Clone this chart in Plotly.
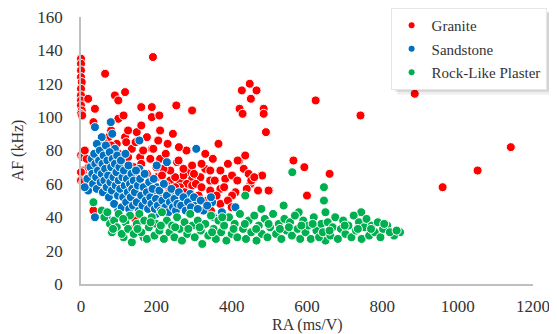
import plotly.graph_objects as go

# ---------------- data ----------------
granite_ra = [0, 0, 0, 0, 2, 0, 0, 0, 0, 2, 0, 3,
              0, 4, 6, 0, 0, 6, 33,
              19, 37, 33, 64, 90, 99, 117, 99, 113, 160, 188, 188, 208, 253, 295, 191,
              148, 244, 365, 421, 429, 427, 448, 451, 466, 485, 485, 491, 420, 436,
              564, 593, 660, 600, 500, 481, 623, 886, 742, 1141, 1053, 960,
              73, 117, 95, 135, 188, 157, 184, 210, 255, 286, 175, 201, 237, 263, 290,
              228, 184, 144, 144,
              192, 416, 259, 295, 330, 343, 370, 432, 445, 317, 343, 383, 401, 450, 452,
              498, 370, 410, 401, 295, 272, 250, 237, 219, 272, 281, 263, 312, 343, 370, 295,
              50, 65, 80, 100, 110, 125, 140, 150, 160, 130, 170, 120, 145, 165, 200,
              215, 225, 235, 250, 260, 275, 305, 320, 335, 355, 360, 380, 390, 300, 320,
              350, 280, 230, 205, 175, 125, 80, 55, 40, 20, 15, 35, 105, 90, 200, 170,
              345, 400, 440, 460, 415, 470, 300, 330, 260, 390, 210, 160, 60, 10]
granite_af = [135, 132, 128, 124, 121, 117, 113, 110, 107, 104, 102, 101,
              77, 76, 68, 67, 62, 61, 44,
              111, 105, 97, 126, 113, 110, 115, 99, 101, 106, 106, 100, 101, 107, 104, 136,
              91, 90, 84, 105, 102, 116, 120, 111, 116, 105, 102, 91, 74, 77,
              74, 70, 66, 53, 56, 65, 110, 114, 101, 82, 68, 58,
              88, 88, 84, 81, 81, 76, 75, 75, 73, 67, 66, 64, 62, 61, 59,
              59, 60, 39, 34,
              81, 74, 74, 71, 69, 68, 68, 69, 66, 64, 62, 63, 65, 60, 62,
              56, 57, 55, 53, 63, 65, 64, 68, 69, 69, 60, 58, 53, 56, 48, 59,
              80, 75, 83, 78, 72, 76, 70, 65, 72, 62, 58, 85, 85, 80, 70,
              65, 78, 55, 58, 52, 55, 60, 58, 50, 62, 53, 58, 50, 66, 72,
              75, 80, 84, 86, 88, 92, 92, 70, 72, 70, 75, 62, 68, 62, 55, 50,
              44, 46, 57, 64, 62, 56, 48, 78, 82, 72, 92, 95, 85, 80]

sandstone_ra = [79, 37, 55, 83, 42, 155, 306, 90, 201, 228, 155, 17, 19, 37, 68, 99,
                200, 299, 215, 201, 290, 348, 325, 374, 410, 352, 240, 10,
                25, 28, 30, 32, 35, 38, 40, 42, 45, 48, 50, 52, 55, 57, 58, 60,
                62, 64, 66, 68, 70, 72, 74, 76, 78, 80, 82, 84, 86, 88, 90, 92, 94, 96, 98, 100,
                102, 104, 106, 108, 110, 112, 114, 116, 118, 120, 122, 124, 126, 128, 130,
                132, 134, 136, 138, 140,
                143, 146, 148, 151, 154, 157, 160, 163, 166, 169, 172, 175, 178, 181, 184,
                187, 190, 193, 196, 199,
                204, 208, 212, 216, 220, 224, 228, 232, 236, 240, 244, 248, 252, 256, 260,
                266, 272, 278, 284, 292, 300, 310, 318, 335, 345]
sandstone_af = [97, 94, 88, 90, 84, 86, 81, 81, 71, 73, 69, 63, 56, 40, 40, 44,
                42, 48, 53, 58, 54, 49, 44, 43, 46, 40, 53, 58,
                70, 75, 66, 60, 78, 72, 64, 57, 68, 74, 80, 61, 66, 72, 55, 77,
                62, 69, 83, 58, 74, 65, 52, 79, 61, 70, 56, 75, 64, 48, 72, 59, 67, 77, 53, 62,
                70, 57, 74, 46, 64, 52, 68, 59, 78, 49, 63, 55, 71, 45, 60,
                52, 66, 57, 47, 62,
                55, 68, 49, 59, 44, 63, 53, 47, 58, 66, 50, 55, 45, 61, 52,
                48, 57, 63, 45, 51,
                47, 56, 44, 50, 60, 46, 53, 43, 49, 57, 46, 51, 44, 48, 55,
                47, 52, 44, 49, 46, 52, 45, 50, 47, 52]

plaster_ra = [33, 55, 77, 82, 113, 135, 166, 561, 645, 645, 649, 538, 578, 744, 847, 831,
              649, 813, 436, 479,
              62, 70, 88, 95, 100, 108, 118, 125, 130, 140, 148,
              155, 160, 168, 175, 180, 188, 195, 200, 208, 215, 220, 228, 235, 242, 248,
              255, 262, 268, 275, 282, 290, 296, 302, 310, 318, 322, 330, 338, 345,
              352, 358, 365, 372, 380, 386, 393, 400, 408, 415, 422, 430, 438, 445,
              452, 460, 466, 472, 480, 488, 495, 502, 510, 518, 525, 532, 540, 546,
              555, 560, 568, 575, 582, 590, 596, 604, 610, 618, 625, 632, 638, 642,
              655, 662, 668, 675, 682, 690, 696, 702, 710, 718, 724, 730, 738, 745,
              752, 758, 765, 772, 780, 788, 795, 802, 820, 838,
              85, 112, 150, 185, 212, 250, 285, 315, 348, 375, 405, 435, 465, 498,
              528, 552, 585, 615, 660, 700, 735, 770, 805]
plaster_af = [49, 44, 36, 31, 28, 25, 28, 67, 58, 50, 43, 47, 43, 43, 31, 29,
              26, 35, 53, 45,
              40, 43, 38, 34, 42, 30, 37, 33, 41, 30, 36,
              42, 31, 38, 27, 34, 40, 29, 36, 32, 43, 27, 38, 31, 35, 28,
              40, 33, 26, 37, 30, 42, 35, 28, 38, 32, 24, 36, 29, 41,
              33, 27, 38, 31, 35, 26, 40, 30, 36, 28, 42, 33, 27, 38,
              31, 41, 26, 35, 30, 39, 28, 34, 42, 30, 36, 27, 39, 32,
              37, 29, 41, 33, 27, 38, 31, 35, 27, 40, 32, 28, 36, 31,
              37, 29, 34, 40, 27, 33, 38, 30, 35, 28, 41, 32, 37, 27,
              34, 39, 29, 35, 31, 37, 28, 33, 31, 32,
              33, 39, 33, 37, 35, 34, 33, 34, 31, 40, 33, 36, 33, 36,
              33, 34, 35, 36, 32, 35, 33, 33, 36]

series_names = ["Granite", "Sandstone", "Rock-Like Plaster"]
series_colors = ["#FF0000", "#0070C0", "#00B050"]
x_ticks = [0, 200, 400, 600, 800, 1000, 1200]
y_ticks = [0, 20, 40, 60, 80, 100, 120, 140, 160]
x_title = "RA (ms/V)"
y_title = "AF (kHz)"

FONT = "Liberation Serif, Times New Roman, serif"
TXT = "#333333"

fig = go.Figure()
for name, xs, ys, col in zip(series_names,
                             [granite_ra, sandstone_ra, plaster_ra],
                             [granite_af, sandstone_af, plaster_af],
                             series_colors):
    fig.add_trace(go.Scatter(x=xs, y=ys, mode="markers", name=name, showlegend=False,
                             cliponaxis=False,
                             marker=dict(size=9, color=col, line=dict(color="white", width=1))))
for name, col in zip(series_names, series_colors):
    fig.add_trace(go.Scatter(x=[None], y=[None], mode="markers", name=name,
                             legendgroup=name, showlegend=True,
                             marker=dict(size=6, color=col)))

# the page body has an 8px margin; the figure fills the rest of the window
fig.update_layout(
    width=549, height=326,
    margin=dict(l=73, r=24, t=9, b=50, autoexpand=False),
    paper_bgcolor="white", plot_bgcolor="white",
    font=dict(family=FONT, size=17, color=TXT),
    showlegend=True,
    legend=dict(x=0.685, y=1.034, xanchor="left", yanchor="top",
                bgcolor="white", bordercolor="#E6E6E6", borderwidth=1,
                font=dict(family=FONT, size=15, color=TXT),
                traceorder="grouped", tracegroupgap=1,
                itemwidth=30),
    xaxis=dict(range=[0, 1200], tickvals=x_ticks, showgrid=False, zeroline=False,
               showline=True, linecolor="#BFBFBF", linewidth=1.5, ticks="",
               ticklabelstandoff=6, automargin=False, ticklabeloverflow="allow",
               tickfont=dict(family=FONT, size=17, color=TXT)),
    yaxis=dict(range=[0, 160], tickvals=y_ticks, showgrid=False, zeroline=False,
               showline=True, linecolor="#BFBFBF", linewidth=1.5, ticks="",
               ticklabelstandoff=13, automargin=False, ticklabeloverflow="allow",
               tickfont=dict(family=FONT, size=17, color=TXT),
               title=dict(text=y_title, standoff=10,
                          font=dict(family=FONT, size=16, color=TXT))),
    annotations=[dict(text=x_title, xref="paper", yref="paper", x=0.5, y=-0.153,
                      xanchor="center", yanchor="middle", showarrow=False,
                      font=dict(family=FONT, size=16, color=TXT))],
    shapes=[dict(type="rect", xref="paper", yref="paper",
                 x0=0.70, x1=1.046, y0=0.71, y1=1.015,
                 fillcolor="rgba(0,0,0,0.07)", line=dict(width=0), layer="above"),
            dict(type="rect", xref="paper", yref="paper",
                 x0=0.695, x1=1.04, y0=0.72, y1=1.02,
                 fillcolor="rgba(0,0,0,0.10)", line=dict(width=0), layer="above")],
)

fig.write_html("out.html")
